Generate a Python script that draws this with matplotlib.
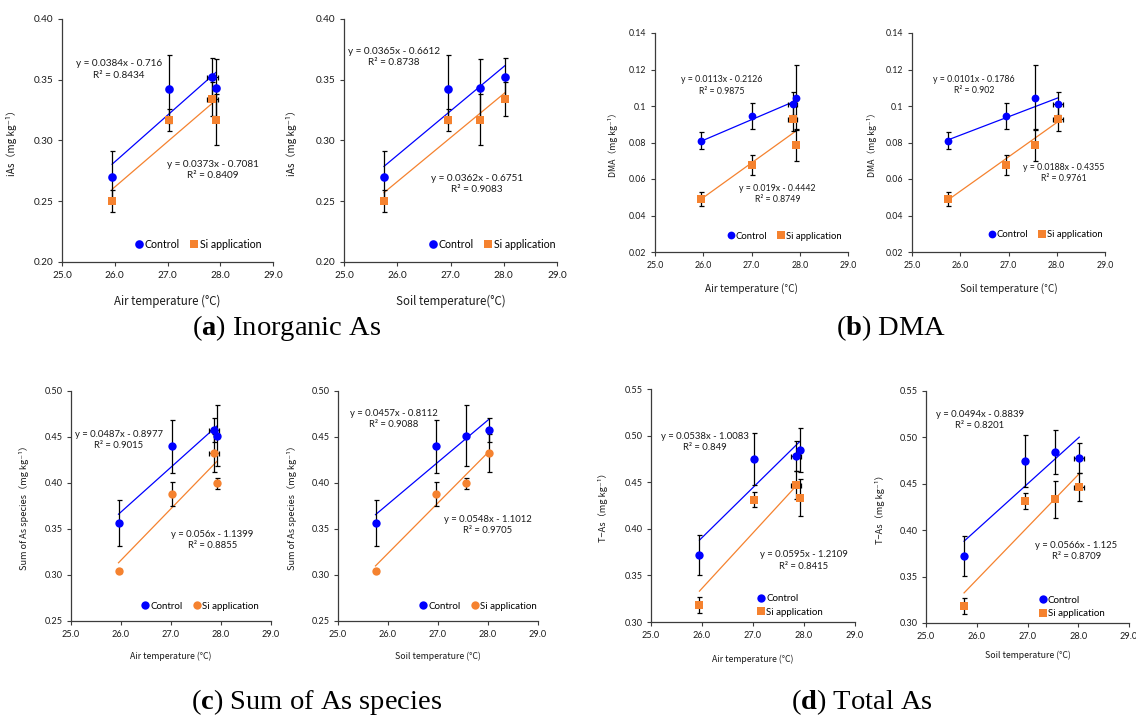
import matplotlib
matplotlib.use("Agg")
import matplotlib.pyplot as plt
from matplotlib.lines import Line2D
import numpy as np

plt.rcParams["mathtext.fontset"] = "custom"
plt.rcParams["mathtext.rm"] = "Liberation Serif"
plt.rcParams["mathtext.bf"] = "Liberation Serif:bold"

# ---- sampling periods: mean air / soil temperature (°C) ----
air_temp = [25.95, 27.02, 27.85, 27.92]
air_temp_sd = [0.0, 0.0, 0.10, 0.03]
soil_temp = [25.75, 26.95, 28.02, 27.55]
soil_temp_sd = [0.0, 0.0, 0.10, 0.0]

# ---- arsenic concentrations in grain (mg kg-1), mean and SD ----
ias_ctrl = [0.270, 0.342, 0.352, 0.343]
ias_ctrl_sd = [0.021, 0.028, 0.016, 0.024]
ias_si = [0.250, 0.317, 0.334, 0.317]
ias_si_sd = [0.009, 0.009, 0.014, 0.021]

dma_ctrl = [0.081, 0.0945, 0.1013, 0.1046]
dma_ctrl_sd = [0.0046, 0.007, 0.0065, 0.018]
dma_si = [0.049, 0.0677, 0.0931, 0.0785]
dma_si_sd = [0.004, 0.0055, 0.007, 0.0087]

sum_ctrl = [0.3565, 0.4399, 0.458, 0.4514]
sum_ctrl_sd = [0.0245, 0.029, 0.013, 0.033]
sum_si = [0.304, 0.388, 0.4326, 0.3996]
sum_si_sd = [0.002, 0.0135, 0.021, 0.006]

tas_ctrl = [0.3723, 0.4748, 0.478, 0.4845]
tas_ctrl_sd = [0.0215, 0.028, 0.016, 0.024]
tas_si = [0.318, 0.4314, 0.4465, 0.4332]
tas_si_sd = [0.0086, 0.0083, 0.015, 0.020]

# ---- linear fits: (slope, intercept, R²) ----
fit_ias_air = [(0.0384, -0.716, "0.8434"), (0.0373, -0.7081, "0.8409")]
fit_ias_soil = [(0.0365, -0.6612, "0.8738"), (0.0362, -0.6751, "0.9083")]
fit_dma_air = [(0.0113, -0.2126, "0.9875"), (0.019, -0.4442, "0.8749")]
fit_dma_soil = [(0.0101, -0.1786, "0.902"), (0.0188, -0.4355, "0.9761")]
fit_sum_air = [(0.0487, -0.8977, "0.9015"), (0.056, -1.1399, "0.8855")]
fit_sum_soil = [(0.0457, -0.8112, "0.9088"), (0.0548, -1.1012, "0.9705")]
fit_tas_air = [(0.0538, -1.0083, "0.849"), (0.0595, -1.2109, "0.8415")]
fit_tas_soil = [(0.0494, -0.8839, "0.8201"), (0.0566, -1.125, "0.8709")]

# ---- axis ticks ----
x_ticks = [25.0, 26.0, 27.0, 28.0, 29.0]
x_tick_labels = ["25.0", "26.0", "27.0", "28.0", "29.0"]
ias_ticks = [0.20, 0.25, 0.30, 0.35, 0.40]
ias_tick_labels = ["0.20", "0.25", "0.30", "0.35", "0.40"]
dma_ticks = [0.02, 0.04, 0.06, 0.08, 0.10, 0.12, 0.14]
dma_tick_labels = ["0.02", "0.04", "0.06", "0.08", "0.1", "0.12", "0.14"]
sum_ticks = [0.25, 0.30, 0.35, 0.40, 0.45, 0.50]
sum_tick_labels = ["0.25", "0.30", "0.35", "0.40", "0.45", "0.50"]
tas_ticks = [0.30, 0.35, 0.40, 0.45, 0.50, 0.55]
tas_tick_labels = ["0.30", "0.35", "0.40", "0.45", "0.50", "0.55"]

series_labels = ["Control", "Si application"]
captions = [("a", "Inorganic As"), ("b", "DMA"), ("c", "Sum of As species"), ("d", "Total As")]

BLUE = "#0000FF"
ORANGE = "#F5822F"
INK = "#1a1a1a"
SPINE = "#3c3c3c"
LABEL_FONT = ["Noto Sans CJK JP", "DejaVu Sans"]
NUM_FONT = ["Lato", "DejaVu Sans"]

W, H = 1136, 716
fig = plt.figure(figsize=(W / 100, H / 100), dpi=100)


def rect(x0, x1, y0, y1):
    return [x0 / W, 1 - y1 / H, (x1 - x0) / W, (y1 - y0) / H]


panels = [
    dict(box=(62, 273, 19, 262), x=air_temp, xsd=air_temp_sd, ctrl=(ias_ctrl, ias_ctrl_sd),
         si=(ias_si, ias_si_sd), fit=fit_ias_air, yt=ias_ticks, ytl=ias_tick_labels,
         ylabel="iAs（mg kg⁻¹）", xlabel="Air temperature (°C)", si_marker="s",
         eq=[(26.08, 0.3585), (27.86, 0.2755)], leg=(0.645, 0.074), ncol=2,
         fs_tick=7.2, fs_lab=8.3, fs_ylab=7.2, fs_eq=7.2, fs_leg=7.6, ms=6.2, ylx=-0.215, xly=-0.135),
    dict(box=(344, 557, 19, 262), x=soil_temp, xsd=None, ctrl=(ias_ctrl, ias_ctrl_sd),
         si=(ias_si, ias_si_sd), fit=fit_ias_soil, yt=ias_ticks, ytl=ias_tick_labels,
         ylabel="iAs（mg kg⁻¹）", xlabel="Soil temperature(°C)", si_marker="s",
         eq=[(25.94, 0.3686), (27.49, 0.264)], leg=(0.695, 0.074), ncol=2,
         fs_tick=7.2, fs_lab=8.3, fs_ylab=7.2, fs_eq=7.2, fs_leg=7.6, ms=6.2, ylx=-0.22, xly=-0.135),
    dict(box=(655, 848, 33, 252), x=air_temp, xsd=air_temp_sd, ctrl=(dma_ctrl, dma_ctrl_sd),
         si=(dma_si, dma_si_sd), fit=fit_dma_air, yt=dma_ticks, ytl=dma_tick_labels,
         ylabel="DMA（mg kg⁻¹）", xlabel="Air temperature (°C)", si_marker="s",
         eq=[(26.38, 0.1113), (27.54, 0.0517)], leg=(0.67, 0.073), ncol=2,
         fs_tick=6.3, fs_lab=7.2, fs_ylab=6.3, fs_eq=6.3, fs_leg=6.8, ms=5.6, ylx=-0.19, xly=-0.14),
    dict(box=(912, 1105, 33, 252), x=soil_temp, xsd=soil_temp_sd, ctrl=(dma_ctrl, dma_ctrl_sd),
         si=(dma_si, dma_si_sd), fit=fit_dma_soil, yt=dma_ticks, ytl=dma_tick_labels,
         ylabel="DMA（mg kg⁻¹）", xlabel="Soil temperature (°C)", si_marker="s",
         eq=[(26.28, 0.1114), (28.15, 0.0633)], leg=(0.69, 0.078), ncol=2,
         fs_tick=6.3, fs_lab=7.2, fs_ylab=6.3, fs_eq=6.3, fs_leg=6.8, ms=5.6, ylx=-0.18, xly=-0.14),
    dict(box=(71, 271, 391, 621), x=air_temp, xsd=air_temp_sd, ctrl=(sum_ctrl, sum_ctrl_sd),
         si=(sum_si, sum_si_sd), fit=fit_sum_air, yt=sum_ticks, ytl=sum_tick_labels,
         ylabel="Sum of As species（mg kg⁻¹）", xlabel="Air temperature (°C)", si_marker="o",
         eq=[(25.96, 0.447), (27.83, 0.338)], leg=(0.645, 0.065), ncol=2,
         fs_tick=6.6, fs_lab=6.3, fs_ylab=6.6, fs_eq=6.8, fs_leg=7.0, ms=6.0, ylx=-0.21, xly=-0.135),
    dict(box=(338, 538, 391, 621), x=soil_temp, xsd=None, ctrl=(sum_ctrl, sum_ctrl_sd),
         si=(sum_si, sum_si_sd), fit=fit_sum_soil, yt=sum_ticks, ytl=sum_tick_labels,
         ylabel="Sum of As species（mg kg⁻¹）", xlabel="Soil temperature (°C)", si_marker="o",
         eq=[(26.11, 0.4696), (28.0, 0.3545)], leg=(0.70, 0.065), ncol=2,
         fs_tick=6.6, fs_lab=6.3, fs_ylab=6.6, fs_eq=6.8, fs_leg=7.0, ms=6.0, ylx=-0.205, xly=-0.135),
    dict(box=(651, 855, 389, 622), x=air_temp, xsd=air_temp_sd, ctrl=(tas_ctrl, tas_ctrl_sd),
         si=(tas_si, tas_si_sd), fit=fit_tas_air, yt=tas_ticks, ytl=tas_tick_labels,
         ylabel="T−As（mg kg⁻¹）", xlabel="Air temperature (°C)", si_marker="s",
         eq=[(26.05, 0.493), (27.99, 0.366)], leg=(0.52, 0.071), ncol=1,
         fs_tick=6.6, fs_lab=6.3, fs_ylab=6.6, fs_eq=6.8, fs_leg=7.0, ms=6.0, ylx=-0.21, xly=-0.14),
    dict(box=(926, 1129, 391, 623), x=soil_temp, xsd=soil_temp_sd, ctrl=(tas_ctrl, tas_ctrl_sd),
         si=(tas_si, tas_si_sd), fit=fit_tas_soil, yt=tas_ticks, ytl=tas_tick_labels,
         ylabel="T−As（mg kg⁻¹）", xlabel="Soil temperature (°C)", si_marker="s",
         eq=[(26.06, 0.519), (27.96, 0.3774)], leg=(0.555, 0.069), ncol=1,
         fs_tick=6.6, fs_lab=6.3, fs_ylab=6.6, fs_eq=6.8, fs_leg=7.0, ms=6.0, ylx=-0.2, xly=-0.12),
]

for p in panels:
    ax = fig.add_axes(rect(*p["box"]))
    x = np.array(p["x"])
    handles = []
    for (vals, sd), color, marker, (slope, icpt, r2), (ex, ey) in zip(
            [p["ctrl"], p["si"]], [BLUE, ORANGE], ["o", p["si_marker"]], p["fit"], p["eq"]):
        # regression line over the sampled temperature range
        xs = np.array([x.min(), x.max()])
        ax.plot(xs, slope * xs + icpt, color=color, lw=0.9, zorder=2)
        ax.errorbar(x, vals, yerr=sd, xerr=p["xsd"], fmt="none", ecolor="black",
                    elinewidth=0.9, capsize=1.8, capthick=0.9, zorder=3)
        ax.plot(x, vals, linestyle="none", marker=marker, ms=p["ms"], color=color,
                markeredgewidth=0, zorder=4)
        sign = "-" if icpt < 0 else "+"
        ax.text(ex, ey, f"y = {slope:g}x {sign} {abs(icpt):g}\nR² = {r2}",
                ha="center", va="center", multialignment="center",
                fontsize=p["fs_eq"], family=NUM_FONT, color=INK, linespacing=1.35, zorder=5)
        handles.append(Line2D([], [], linestyle="none", marker=marker, ms=p["ms"],
                              color=color, markeredgewidth=0))

    if p["ncol"] == 2:
        ax.legend(handles, series_labels, loc="center", bbox_to_anchor=p["leg"], ncol=2,
                  frameon=False, handlelength=0.8, handletextpad=0.15, columnspacing=1.0,
                  borderaxespad=0, borderpad=0, prop={"family": NUM_FONT, "size": p["fs_leg"]})
    else:
        ax.legend(handles, series_labels, loc="center left", bbox_to_anchor=p["leg"], ncol=1,
                  frameon=False, handlelength=0.8, handletextpad=0.15, labelspacing=0.45,
                  borderaxespad=0, borderpad=0, prop={"family": NUM_FONT, "size": p["fs_leg"]})

    ax.set_xlim(x_ticks[0], x_ticks[-1])
    ax.set_ylim(p["yt"][0], p["yt"][-1])
    ax.set_xticks(x_ticks)
    ax.set_xticklabels(x_tick_labels, family=NUM_FONT, fontsize=p["fs_tick"], color=INK)
    ax.set_yticks(p["yt"])
    ax.set_yticklabels(p["ytl"], family=NUM_FONT, fontsize=p["fs_tick"], color=INK)
    ax.tick_params(direction="out", length=3.2, width=0.8, color=SPINE, pad=3)
    for side in ("top", "right"):
        ax.spines[side].set_visible(False)
    for side in ("left", "bottom"):
        ax.spines[side].set_color(SPINE)
        ax.spines[side].set_linewidth(0.9)
    ax.set_xlabel(p["xlabel"], family=LABEL_FONT, fontsize=p["fs_lab"], color=INK)
    ax.set_ylabel(p["ylabel"], family=LABEL_FONT, fontsize=p["fs_ylab"], color=INK)
    ax.xaxis.set_label_coords(0.5, p["xly"])
    ax.yaxis.set_label_coords(p["ylx"], 0.5)
    ax.patch.set_alpha(0)

# sub-figure captions
caption_pos = [(287, 328), (891, 328), (317, 702), (862, 702)]
for (letter, title), (cx, cy) in zip(captions, caption_pos):
    fig.text(cx / W, 1 - cy / H, rf"($\mathbf{{{letter}}}$) {title}", ha="center", va="center",
             family="Liberation Serif", fontsize=20.5, color="black")

fig.savefig("out.png", dpi=100, facecolor="white")
